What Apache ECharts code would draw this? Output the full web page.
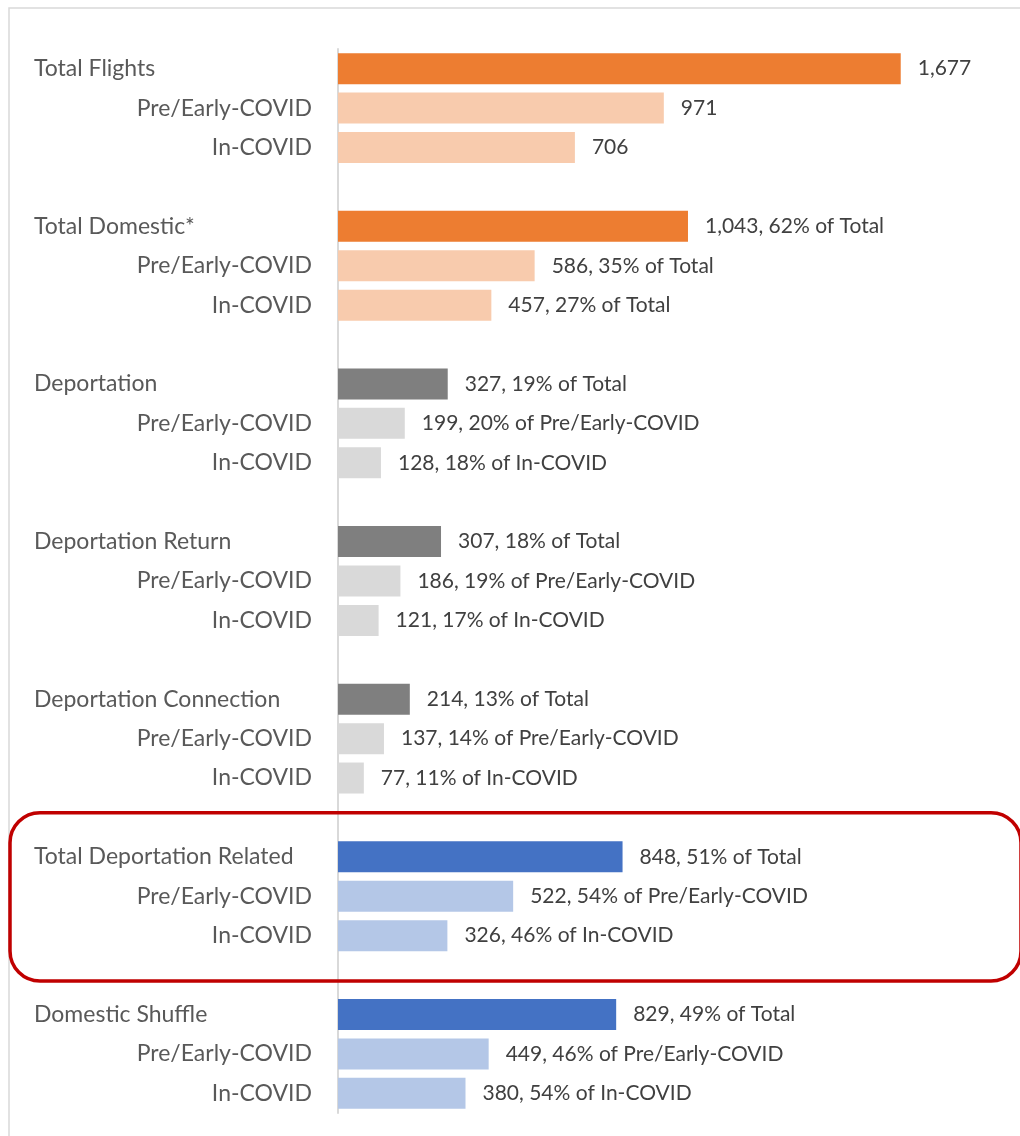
<!DOCTYPE html>
<html>
<head>
<meta charset="utf-8">
<script src="https://cdn.jsdelivr.net/npm/echarts@6/dist/echarts.min.js"></script>
<style>
  html, body { margin: 0; padding: 0; background: #fff; }
  #chart { width: 1020px; height: 1136px; }
</style>
</head>
<body>
<div id="chart"></div>
<script>
// groups, top to bottom
var groupNames = ['Total Flights', 'Total Domestic*', 'Deportation', 'Deportation Return',
                  'Deportation Connection', 'Total Deportation Related', 'Domestic Shuffle'];
var subNames = ['Pre/Early-COVID', 'In-COVID'];

var totals   = [1677, 1043, 327, 307, 214, 848, 829];
var preCovid = [971, 586, 199, 186, 137, 522, 449];
var inCovid  = [706, 457, 128, 121, 77, 326, 380];

var totalShare = ['', '62% of Total', '19% of Total', '18% of Total', '13% of Total', '51% of Total', '49% of Total'];
var preShare   = ['', '35% of Total', '20% of Pre/Early-COVID', '19% of Pre/Early-COVID',
                  '14% of Pre/Early-COVID', '54% of Pre/Early-COVID', '46% of Pre/Early-COVID'];
var inShare    = ['', '27% of Total', '18% of In-COVID', '17% of In-COVID',
                  '11% of In-COVID', '46% of In-COVID', '54% of In-COVID'];

// colour family for each group: [total bar, sub bars]
var groupColors = [
  ['#ED7D31', '#F8CBAD'], ['#ED7D31', '#F8CBAD'],
  ['#7F7F7F', '#D9D9D9'], ['#7F7F7F', '#D9D9D9'], ['#7F7F7F', '#D9D9D9'],
  ['#4472C4', '#B4C7E7'], ['#4472C4', '#B4C7E7']
];
var highlightGroup = 5;

var FONT = 'Lato';
var AXIS_TEXT = '#595959';
var LABEL_TEXT = '#404040';

var categories = [];
var isHeader = [];
var barData = [];
var headerRow = [];

function fmt(v) { return v.toLocaleString('en-US'); }
function labelText(v, share) { return share ? fmt(v) + ', ' + share : fmt(v); }

groupNames.forEach(function (g, i) {
  if (i > 0) {
    categories.push(''); isHeader.push(false); barData.push('-');
  }
  headerRow.push(categories.length);
  categories.push(g); isHeader.push(true);
  barData.push({ value: totals[i], itemStyle: { color: groupColors[i][0] },
                 label: { formatter: labelText(totals[i], totalShare[i]) } });
  categories.push(subNames[0]); isHeader.push(false);
  barData.push({ value: preCovid[i], itemStyle: { color: groupColors[i][1] },
                 label: { formatter: labelText(preCovid[i], preShare[i]) } });
  categories.push(subNames[1]); isHeader.push(false);
  barData.push({ value: inCovid[i], itemStyle: { color: groupColors[i][1] },
                 label: { formatter: labelText(inCovid[i], inShare[i]) } });
});

var chart = echarts.init(document.getElementById('chart'));

var option = {
  animation: false,
  grid: { left: 338, right: 78, top: 49, bottom: 23 },
  xAxis: {
    type: 'value', min: 0, max: 1800,
    show: false
  },
  yAxis: {
    type: 'category',
    inverse: true,
    data: categories,
    axisLine: { show: true, lineStyle: { color: '#D9D9D9', width: 2 } },
    axisTick: { show: false },
    axisLabel: {
      interval: 0,
      margin: 26,
      color: AXIS_TEXT,
      fontFamily: FONT,
      fontSize: 23,
      formatter: function (v, idx) {
        if (isHeader[idx]) return '{h|' + v + '}';
        return v;
      },
      rich: {
        h: { width: 278, align: 'left', color: AXIS_TEXT, fontFamily: FONT, fontSize: 23 }
      }
    }
  },
  series: [{
    type: 'bar',
    data: barData,
    barWidth: 31,
    label: {
      show: true,
      position: 'right',
      distance: 17,
      color: LABEL_TEXT,
      fontFamily: FONT,
      fontSize: 21
    }
  }],
  graphic: []
};

chart.setOption(option);

// outer frame and the rounded highlight box around one group
var r0 = headerRow[highlightGroup];
var y0 = chart.convertToPixel({ yAxisIndex: 0 }, r0);
var y2 = chart.convertToPixel({ yAxisIndex: 0 }, r0 + 2);
var slot = (y2 - y0) / 2;

chart.setOption({
  graphic: [
    { type: 'rect', silent: true, z: 0,
      shape: { x: 9, y: 8, width: 1100, height: 1200 },
      style: { fill: null, stroke: '#D9D9D9', lineWidth: 1.5 } },
    { type: 'rect', silent: true, z: 100,
      shape: { x: 10, y: y0 - 1.12 * slot, width: 1011, height: (y2 - y0) + 2.27 * slot, r: 30 },
      style: { fill: null, stroke: '#C00000', lineWidth: 3.5 } }
  ]
});
</script>
</body>
</html>
